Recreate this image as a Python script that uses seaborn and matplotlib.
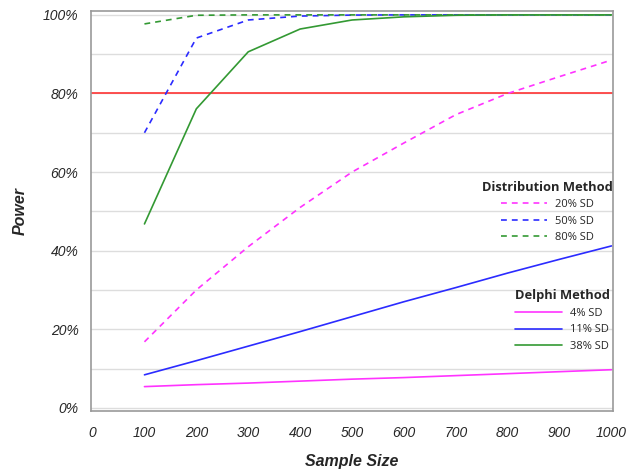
import pandas as pd
import numpy as np
import matplotlib.pyplot as plt
import seaborn as sns
from matplotlib.ticker import PercentFormatter, MultipleLocator

sample_sizes = [100, 200, 300, 400, 500, 600, 700, 800, 900, 1000]

# distribution method (dashed)
dist_20 = [16.8, 30.0, 41.0, 51.0, 60.0, 67.4, 74.6, 80.0, 84.3, 88.5]
dist_50 = [70.0, 94.1, 98.7, 99.7, 99.95, 100, 100, 100, 100, 100]
dist_80 = [97.7, 99.9, 100, 100, 100, 100, 100, 100, 100, 100]

# delphi method (solid)
delphi_4 = [5.4, 5.9, 6.3, 6.8, 7.3, 7.7, 8.2, 8.7, 9.2, 9.7]
delphi_11 = [8.4, 12.0, 15.7, 19.4, 23.2, 27.0, 30.6, 34.3, 37.8, 41.2]
delphi_38 = [46.8, 76.1, 90.6, 96.4, 98.7, 99.5, 99.9, 100, 100, 100]

target_power = 80

magenta = '#ff33ff'
blue = '#2b2bff'
green = '#339933'

sns.set_style('white')
plt.rcParams['font.family'] = ['Liberation Sans', 'DejaVu Sans']

fig = plt.figure(figsize=(6.29, 4.76), dpi=100)
ax = fig.add_axes([0.1447, 0.1366, 0.8299, 0.8404])

series = [
    ('20% SD', dist_20, magenta, (0, (3.5, 3))),
    ('50% SD', dist_50, blue, (0, (3.5, 3))),
    ('80% SD', dist_80, green, (0, (3.5, 3))),
    ('4% SD', delphi_4, magenta, '-'),
    ('11% SD', delphi_11, blue, '-'),
    ('38% SD', delphi_38, green, '-'),
]

for label, vals, col, ls in series:
    df = pd.DataFrame({'n': sample_sizes, 'power': vals})
    sns.lineplot(data=df, x='n', y='power', ax=ax, color=col, linestyle=ls,
                 linewidth=1.2, label=label, legend=False)

ax.axhline(target_power, color='#ff3333', linewidth=1.2, zorder=1)

ax.set_xlim(-3, 1003)
ax.set_ylim(-0.8, 101)
ax.xaxis.set_major_locator(MultipleLocator(100))
ax.yaxis.set_major_locator(MultipleLocator(20))
ax.yaxis.set_minor_locator(MultipleLocator(10))
ax.yaxis.set_major_formatter(PercentFormatter(decimals=0))
ax.grid(axis='y', which='both', color='#dddddd', linewidth=1)
ax.set_axisbelow(True)

for s in ax.spines.values():
    s.set_color('#999999')
    s.set_linewidth(1.2)
ax.tick_params(axis='both', which='major', direction='out', length=4, width=1,
               color='#888888', labelsize=10)
ax.tick_params(axis='x', pad=7)
ax.tick_params(axis='y', pad=5)
ax.tick_params(axis='y', which='minor', length=0)
for t in ax.get_xticklabels() + ax.get_yticklabels():
    t.set_fontstyle('italic')

ax.set_xlabel('Sample Size', fontsize=11.5, fontweight='bold', fontstyle='italic', labelpad=10)
ax.set_ylabel('Power', fontsize=11.5, fontweight='bold', fontstyle='italic', labelpad=11)

handles = ax.get_lines()[:6]
labels = [s[0] for s in series]
leg_kw = dict(loc='upper right', frameon=False, handlelength=4.2, handletextpad=0.7,
              labelspacing=0.5, borderpad=0.0, borderaxespad=0.0, alignment='center',
              prop={'family': 'Open Sans', 'size': 8},
              title_fontproperties={'family': 'Open Sans', 'weight': 'bold', 'size': 9.3})
leg1 = ax.legend(handles[:3], labels[:3], title='Distribution Method',
                 bbox_to_anchor=(0.9995, 0.576), **leg_kw)
leg1._legend_box.sep = 4
ax.add_artist(leg1)
leg2 = ax.legend(handles[3:], labels[3:], title='Delphi Method',
                 bbox_to_anchor=(0.9935, 0.304), **leg_kw)
leg2._legend_box.sep = 4

fig.savefig('out.png', dpi=100)
